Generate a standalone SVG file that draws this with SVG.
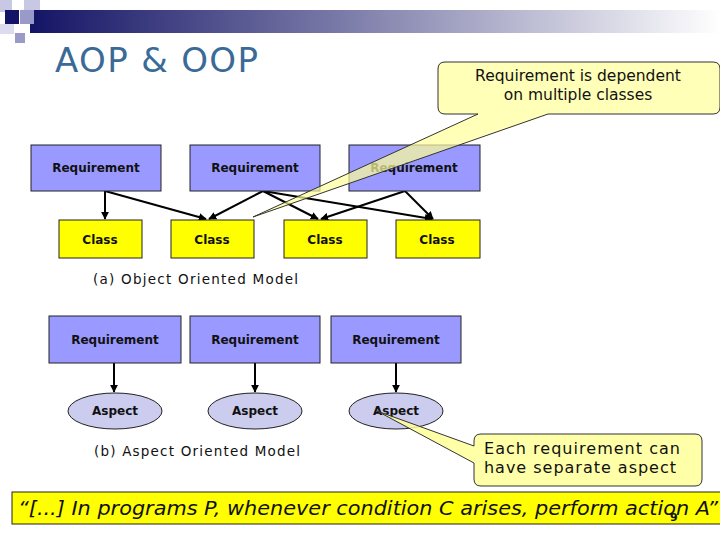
<svg xmlns="http://www.w3.org/2000/svg" width="720" height="540" viewBox="0 0 720 540">
<defs>
<linearGradient id="hg" x1="0" x2="1" y1="0" y2="0"><stop offset="0" stop-color="#141466"/><stop offset="0.45" stop-color="#7a7aa8"/><stop offset="1" stop-color="#ffffff"/></linearGradient>
<marker id="ar" viewBox="0 0 10 10" refX="9" refY="5" markerWidth="4" markerHeight="4" orient="auto"><path d="M0,0 L10,5 L0,10 z" fill="#000"/></marker>
<style>
.req{fill:#9999ff;stroke:#222;stroke-width:1}
.cls{fill:#ffff00;stroke:#222;stroke-width:1}
.asp{fill:#ccccee;stroke:#222;stroke-width:1}
.t{font-family:"DejaVu Sans",sans-serif;font-size:12px;font-weight:bold;text-anchor:middle;fill:#111}
.cap{font-family:"DejaVu Sans",sans-serif;font-size:13.5px;fill:#111}
.ln{stroke:#000;stroke-width:2;fill:none;marker-end:url(#ar)}
</style>
</defs>
<rect width="720" height="540" fill="#fff"/>
<rect x="30" y="10" width="690" height="23" fill="url(#hg)"/>
<rect x="0" y="0" width="12" height="12" fill="#c8c8e4"/>
<rect x="24" y="0" width="16" height="10" fill="#c8c8e4"/>
<rect x="5" y="10" width="14" height="14" fill="#141466"/>
<rect x="20" y="10" width="14" height="14" fill="#9a9ac8"/>
<rect x="0" y="24" width="14" height="10" fill="#dcdcee"/>
<rect x="15" y="33" width="10" height="10" fill="#9a9ac8"/>
<text x="55" y="72" font-family="DejaVu Sans,sans-serif" font-size="34" fill="#3a6a96" textLength="203" lengthAdjust="spacing">AOP &amp; OOP</text>
<g id="connectors">
<line class="ln" x1="105" y1="191" x2="105" y2="219"/>
<line class="ln" x1="105" y1="191" x2="206" y2="219"/>
<line class="ln" x1="263" y1="191" x2="209" y2="219"/>
<line class="ln" x1="263" y1="191" x2="318" y2="219"/>
<line class="ln" x1="263" y1="191" x2="432" y2="219"/>
<line class="ln" x1="405" y1="191" x2="321" y2="219"/>
<line class="ln" x1="405" y1="191" x2="433" y2="219"/>
<line class="ln" x1="114" y1="363" x2="114" y2="392"/>
<line class="ln" x1="255" y1="363" x2="255" y2="392"/>
<line class="ln" x1="396" y1="363" x2="396" y2="392"/>
</g>
<g id="r1"><rect class="req" x="31" y="145" width="130" height="46"/><text class="t" x="96" y="172">Requirement</text></g>
<g id="r2"><rect class="req" x="190" y="145" width="130" height="46"/><text class="t" x="255" y="172">Requirement</text></g>
<g id="r3"><rect class="req" x="349" y="145" width="131" height="46"/><text class="t" x="414" y="172">Requirement</text></g>
<g id="c1"><rect class="cls" x="59" y="220" width="83" height="38"/><text class="t" x="100" y="244">Class</text></g>
<g id="c2"><rect class="cls" x="171" y="220" width="83" height="38"/><text class="t" x="212" y="244">Class</text></g>
<g id="c3"><rect class="cls" x="284" y="220" width="83" height="38"/><text class="t" x="325" y="244">Class</text></g>
<g id="c4"><rect class="cls" x="396" y="220" width="84" height="38"/><text class="t" x="437" y="244">Class</text></g>
<text class="cap" x="93" y="284" textLength="205" lengthAdjust="spacing">(a) Object Oriented Model</text>
<g id="r4"><rect class="req" x="49" y="316" width="132" height="47"/><text class="t" x="115" y="344">Requirement</text></g>
<g id="r5"><rect class="req" x="190" y="316" width="130" height="47"/><text class="t" x="255" y="344">Requirement</text></g>
<g id="r6"><rect class="req" x="331" y="316" width="130" height="47"/><text class="t" x="396" y="344">Requirement</text></g>
<g id="a1"><ellipse class="asp" cx="115" cy="411" rx="47" ry="18"/><text class="t" x="115" y="415">Aspect</text></g>
<g id="a2"><ellipse class="asp" cx="255" cy="411" rx="47" ry="18"/><text class="t" x="255" y="415">Aspect</text></g>
<g id="a3"><ellipse class="asp" cx="396" cy="411" rx="47" ry="18"/><text class="t" x="396" y="415">Aspect</text></g>
<text class="cap" x="94" y="456" textLength="206" lengthAdjust="spacing">(b) Aspect Oriented Model</text>
<g id="callout1">
<path d="M445,62 H713 Q720,62 720,69 V107 Q720,114 713,114 H548 L253,217 L478,114 H445 Q438,114 438,107 V69 Q438,62 445,62 Z" fill="#ffff99" fill-opacity="0.7" stroke="#333" stroke-width="1"/>
<text x="578" y="81" font-family="DejaVu Sans,sans-serif" font-size="15.5" text-anchor="middle" fill="#111">Requirement is dependent</text>
<text x="578" y="100" font-family="DejaVu Sans,sans-serif" font-size="15.5" text-anchor="middle" fill="#111">on multiple classes</text>
</g>
<g id="callout2">
<path d="M481,434 H695 Q702,434 702,441 V479 Q702,486 695,486 H481 Q474,486 474,479 V463 L377,411 L474,446 V441 Q474,434 481,434 Z" fill="#ffff99" fill-opacity="0.85" stroke="#333" stroke-width="1"/>
<text x="484" y="454" font-family="DejaVu Sans,sans-serif" font-size="16" fill="#111" textLength="196" lengthAdjust="spacing">Each requirement can</text>
<text x="484" y="473" font-family="DejaVu Sans,sans-serif" font-size="16" fill="#111" textLength="192" lengthAdjust="spacing">have separate aspect</text>
</g>
<rect x="12" y="492" width="712" height="32" fill="#ffff00" stroke="#222" stroke-width="1"/>
<text x="18" y="515" font-family="DejaVu Sans,sans-serif" font-size="19" font-style="italic" fill="#111" textLength="700" lengthAdjust="spacingAndGlyphs">“[...] In programs P, whenever condition C arises, perform action A”</text>
<text x="670" y="521" font-family="DejaVu Sans,sans-serif" font-size="11" font-weight="bold" fill="#111">9</text>
</svg>
